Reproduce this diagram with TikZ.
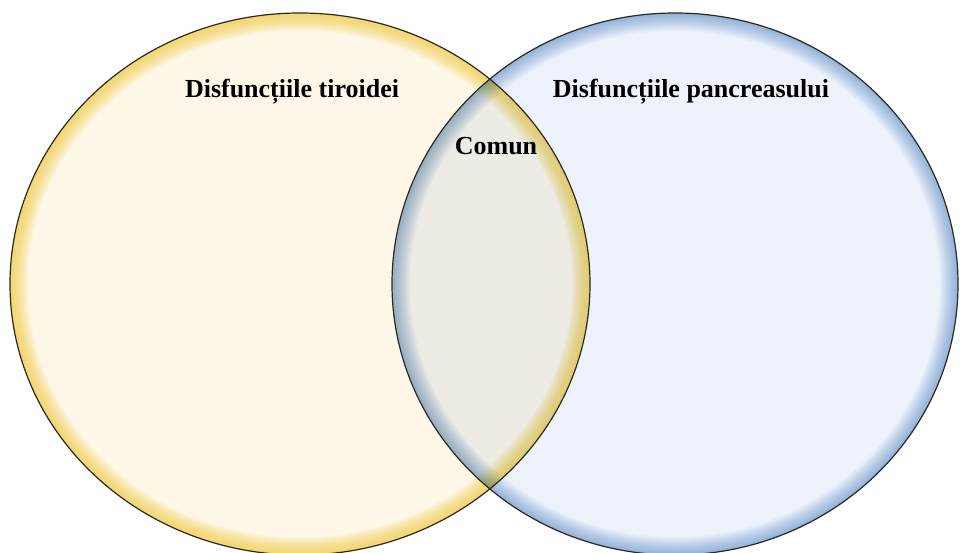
\documentclass[tikz,border=0pt]{standalone}
\usepackage{fontspec}
\setmainfont{Liberation Serif}
\begin{document}
\definecolor{creamfill}{HTML}{FFF8E8}
\definecolor{bluefill}{HTML}{EDF2FB}
\definecolor{glowyellow}{HTML}{F4CC3C}
\definecolor{glowblue}{HTML}{8DB8E2}
\definecolor{rimline}{HTML}{2A2A24}
\begin{tikzpicture}[x=1pt,y=-1pt,
  label/.style={font=\fontsize{26}{30}\selectfont\bfseries, text=black, inner sep=0pt, anchor=base},
  rim/.style={draw=rimline, line width=1.2pt}]
  \useasboundingbox (0,0) rectangle (960,553);
  \coordinate (cl) at (300,284);
  \coordinate (cr) at (675,284);
  % thyroid set: cream disc with a yellow inner glow
  \fill[creamfill] (cl) ellipse [x radius=290, y radius=271];
  \begin{scope}
    \clip (cl) ellipse [x radius=290, y radius=271];
    \foreach \w in {2,4,...,36}
      \draw[glowyellow, line width=\w pt, draw opacity=0.06] (cl) ellipse [x radius=290, y radius=271];
  \end{scope}
  % pancreas set, multiplied over the first so the lens turns greyish
  \begin{scope}[blend mode=multiply]
    \fill[bluefill] (cr) ellipse [x radius=283, y radius=271];
    \begin{scope}
      \clip (cr) ellipse [x radius=283, y radius=271];
      \foreach \w in {2,4,...,36}
        \draw[glowblue, line width=\w pt, draw opacity=0.05] (cr) ellipse [x radius=283, y radius=271];
    \end{scope}
  \end{scope}
  % outlines
  \draw[rim] (cl) ellipse [x radius=290, y radius=271];
  \draw[rim] (cr) ellipse [x radius=283, y radius=271];
  % labels
  \node[label] (tiroida) at (292,98) {Disfuncțiile tiroidei};
  \node[label] (pancreas) at (691,98) {Disfuncțiile pancreasului};
  \node[label] (comun) at (496,155) {Comun};
\end{tikzpicture}
\end{document}
